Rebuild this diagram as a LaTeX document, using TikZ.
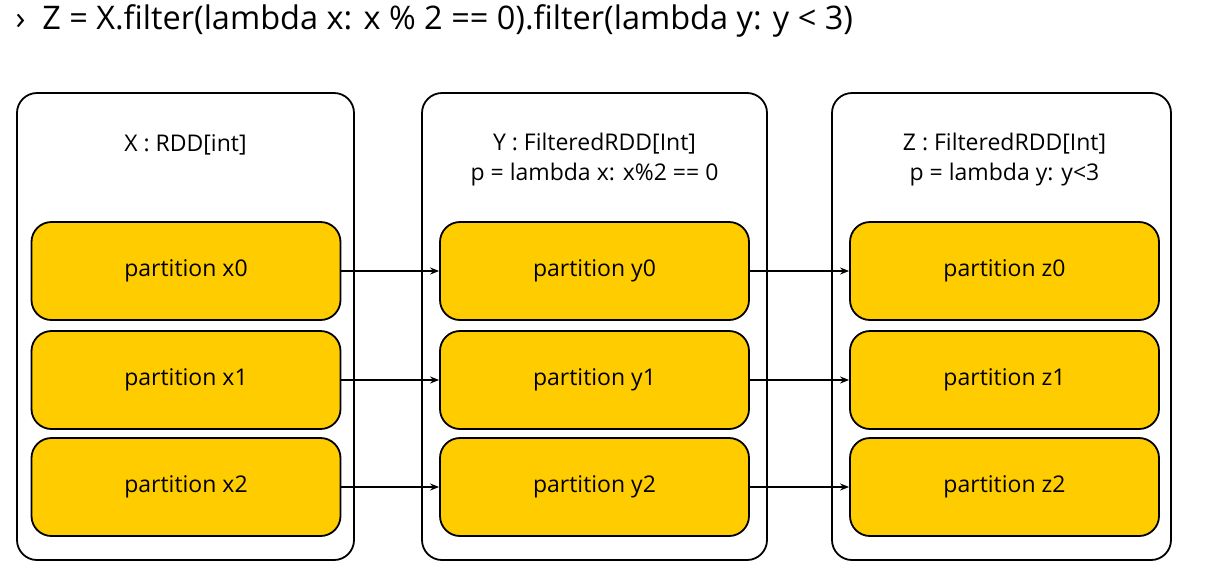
\documentclass[tikz,border=0pt]{standalone}
\usepackage{fontspec}
\setmainfont{Open Sans}
\usetikzlibrary{arrows.meta}

\definecolor{partyellow}{HTML}{FFCC00}

\tikzset{
  rddbox/.style={draw, line width=1.8pt, rounded corners=20pt, fill=white, inner sep=0pt},
  partbox/.style={draw, line width=1.8pt, rounded corners=20pt, fill=partyellow, inner sep=0pt,
    minimum width=309pt, minimum height=98pt, font=\fontsize{23}{27}\selectfont},
  rddlabel/.style={align=center, font=\fontsize{23}{30}\selectfont},
  flow/.style={line width=1.7pt, -{Stealth[length=9pt, width=7pt]}}
}

\begin{document}
\begin{tikzpicture}[x=1pt, y=-1pt]
  \useasboundingbox (0, 0) rectangle (1206, 579);
  % title line
  \node[anchor=west, font=\fontsize{32.5}{38}\selectfont] (title) at (12, 21)
    {›\ \ Z = X.filter(lambda x: x \% 2 == 0).filter(lambda y: y < 3)};
  % the three RDDs
  \node[rddbox, minimum width=337pt, minimum height=467pt] (rddX) at (185.5, 326.5) {};
  \node[rddbox, minimum width=345pt, minimum height=467pt] (rddY) at (594.5, 326.5) {};
  \node[rddbox, minimum width=339pt, minimum height=467pt] (rddZ) at (1001.5, 326.5) {};
  \node[rddlabel] (labelX) at (185.5, 145) {X : RDD[int]};
  \node[rddlabel] (labelY) at (594.5, 160) {Y : FilteredRDD[Int]\\p = lambda x: x\%2 == 0};
  \node[rddlabel] (labelZ) at (1004.5, 160) {Z : FilteredRDD[Int]\\p = lambda y: y<3};
  % partitions and their links
  \foreach \i/\y in {0/271, 1/380, 2/487} {
    \node[partbox] (px\i) at (186, \y) {partition x\i};
    \node[partbox] (py\i) at (594.5, \y) {partition y\i};
    \node[partbox] (pz\i) at (1004.5, \y) {partition z\i};
    \draw[flow] (px\i) -- (py\i);
    \draw[flow] (py\i) -- (pz\i);
  }
\end{tikzpicture}
\end{document}
